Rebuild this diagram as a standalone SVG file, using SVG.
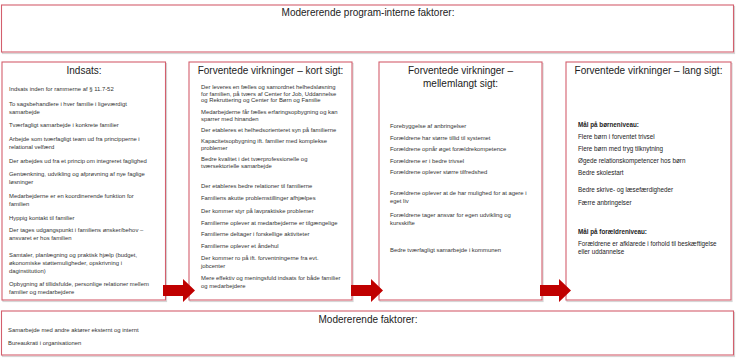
<svg xmlns="http://www.w3.org/2000/svg" width="736" height="361" viewBox="0 0 736 361">
<style>
.box{fill:#fff;stroke:#d35f6d;stroke-width:1.1}
.sh{fill:none;stroke:#d6d6d6;stroke-width:1.2}
.h{font-family:"Liberation Sans",Arial,sans-serif;font-size:10px;fill:#222;text-anchor:middle}
.t{font-family:"Liberation Sans",Arial,sans-serif;font-size:5.9px;fill:#333}
.t4{font-family:"Liberation Sans",Arial,sans-serif;font-size:6.3px;fill:#222}
.b{font-weight:bold}
.arr{fill:#c00000}
</style>
<rect width="736" height="361" fill="#fff"/>
<g id="top">
<rect class="sh" x="2.5" y="6.5" width="732" height="47"/>
<rect class="box" x="1.5" y="5" width="732" height="47"/>
<text class="h" x="368" y="15.5">Modererende program-interne faktorer:</text>
</g>
<g id="indsats">
<rect class="sh" x="3" y="63.5" width="163.5" height="238"/>
<rect class="box" x="2" y="62" width="163.5" height="238"/>
<text class="h" x="84" y="74">Indsats:</text>
<text class="t" x="9" y="91">Indsats inden for rammerne af § 11.7-52</text>
<text class="t" x="9" y="106">To sagsbehandlere i hver familie i ligeværdigt</text>
<text class="t" x="9" y="114">samarbejde</text>
<text class="t" x="9" y="127">Tværfagligt samarbejde i konkrete familier</text>
<text class="t" x="9" y="140.5">Arbejde som tværfagligt team ud fra principperne i</text>
<text class="t" x="9" y="149">relational velfærd</text>
<text class="t" x="9" y="163">Der arbejdes ud fra et princip om integreret faglighed</text>
<text class="t" x="9" y="176">Gentænkning, udvikling og afprøvning af nye faglige</text>
<text class="t" x="9" y="184">løsninger</text>
<text class="t" x="9" y="198">Medarbejderne er en koordinerende funktion for</text>
<text class="t" x="9" y="206">familien</text>
<text class="t" x="9" y="220">Hyppig kontakt til familier</text>
<text class="t" x="9" y="232">Der tages udgangspunkt i familiens ønsker/behov –</text>
<text class="t" x="9" y="240">ansvaret er hos familien</text>
<text class="t" x="9" y="257">Samtaler, planlægning og praktisk hjælp (budget,</text>
<text class="t" x="9" y="265">økonomiske støttemuligheder, opskrivning i</text>
<text class="t" x="9" y="273">daginstitution)</text>
<text class="t" x="9" y="286">Opbygning af tillidsfulde, personlige relationer mellem</text>
<text class="t" x="9" y="294">familier og medarbejdere</text>
</g>
<g id="kort">
<rect class="sh" x="190" y="63.5" width="163" height="238"/>
<rect class="box" x="189" y="62" width="163" height="238"/>
<text class="h" x="270.5" y="74">Forventede virkninger – kort sigt:</text>
<text class="t" x="201" y="89">Der leveres en fælles og samordnet helhedsløsning</text>
<text class="t" x="201" y="95.5">for familien, på tværs af Center for Job, Uddannelse</text>
<text class="t" x="201" y="102">og Rekruttering og Center for Børn og Familie</text>
<text class="t" x="201" y="114">Medarbejderne får fælles erfaringsopbygning og kan</text>
<text class="t" x="201" y="120.5">sparrer med hinanden</text>
<text class="t" x="201" y="132">Der etableres et helhedsorienteret syn på familierne</text>
<text class="t" x="201" y="143">Kapacitetsopbygning ift. familier med komplekse</text>
<text class="t" x="201" y="149.5">problemer</text>
<text class="t" x="201" y="161">Bedre kvalitet i det tværprofessionelle og</text>
<text class="t" x="201" y="167.5">tværsektorielle samarbejde</text>
<text class="t" x="201" y="188">Der etableres bedre relationer til familierne</text>
<text class="t" x="201" y="200">Familiens akutte problemstillinger afhjælpes</text>
<text class="t" x="201" y="212.5">Der kommer styr på lavpraktiske problemer</text>
<text class="t" x="201" y="224.5">Familierne oplever at medarbejderne er tilgængelige</text>
<text class="t" x="201" y="236">Familierne deltager i forskellige aktiviteter</text>
<text class="t" x="201" y="248">Familierne oplever et åndehul</text>
<text class="t" x="201" y="260">Der kommer ro på ift. forventningerne fra evt.</text>
<text class="t" x="201" y="267.5">jobcenter</text>
<text class="t" x="201" y="280">Mere effektiv og meningsfuld indsats for både familier</text>
<text class="t" x="201" y="288">og medarbejdere</text>
</g>
<g id="mellem">
<rect class="sh" x="380" y="63.5" width="163" height="238"/>
<rect class="box" x="379" y="62" width="163" height="238"/>
<text class="h" x="460.5" y="74">Forventede virkninger –</text>
<text class="h" x="460.5" y="87">mellemlangt sigt:</text>
<text class="t" x="390" y="128">Forebyggelse af anbringelser</text>
<text class="t" x="390" y="139.5">Forældrene har større tillid til systemet</text>
<text class="t" x="390" y="151">Forældrene opnår øget forældrekompetence</text>
<text class="t" x="390" y="162.5">Forældrene er i bedre trivsel</text>
<text class="t" x="390" y="174">Forældrene oplever større tilfredshed</text>
<text class="t" x="390" y="195">Forældrene oplever at de har mulighed for at agere i</text>
<text class="t" x="390" y="203">eget liv</text>
<text class="t" x="390" y="216.5">Forældrene tager ansvar for egen udvikling og</text>
<text class="t" x="390" y="224.5">kursskifte</text>
<text class="t" x="390" y="252">Bedre tværfagligt samarbejde i kommunen</text>
</g>
<g id="lang">
<rect class="sh" x="567" y="63.5" width="165" height="238"/>
<rect class="box" x="566" y="62" width="165" height="238"/>
<text class="h" x="648.5" y="74">Forventede virkninger – lang sigt:</text>
<text class="t4 b" x="578" y="126.5">Mål på børneniveau:</text>
<text class="t4" x="578" y="139">Flere børn i forventet trivsel</text>
<text class="t4" x="578" y="151">Flere børn med tryg tilknytning</text>
<text class="t4" x="578" y="163">Øgede relationskompetencer hos børn</text>
<text class="t4" x="578" y="175">Bedre skolestart</text>
<text class="t4" x="578" y="191.5">Bedre skrive- og læsefærdigheder</text>
<text class="t4" x="578" y="205">Færre anbringelser</text>
<text class="t4 b" x="578" y="233.5">Mål på forældreniveau:</text>
<text class="t4" x="578" y="246">Forældrene er afklarede i forhold til beskæftigelse</text>
<text class="t4" x="578" y="254">eller uddannelse</text>
</g>
<g id="bottom">
<rect class="sh" x="2.5" y="312.5" width="732" height="44"/>
<rect class="box" x="1.5" y="311" width="732" height="44"/>
<text class="h" x="368" y="322.5">Modererende faktorer:</text>
<text class="t" x="8" y="332">Samarbejde med andre aktører eksternt og internt</text>
<text class="t" x="8" y="345">Bureaukrati i organisationen</text>
</g>
<g id="connectors">
<polygon class="arr" points="163,285 183,285 183,279 195,290.5 183,302 183,296 163,296"/>
<polygon class="arr" points="351,285 371,285 371,279 383,290.5 371,302 371,296 351,296"/>
<polygon class="arr" points="540,285 559,285 559,279 571,290.5 559,302 559,296 540,296"/>
</g>
</svg>
